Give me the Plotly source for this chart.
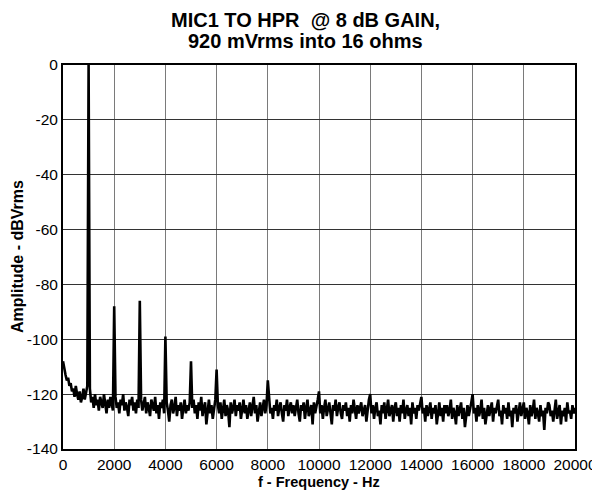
import plotly.graph_objects as go

# Frequency bins (Hz), 50 Hz spacing
freq_hz = list(range(0, 20001, 50))

# Amplitude (dBVrms), one row per 1000 Hz
amp_rows = [
    [-108, -111, -113, -115, -114, -117, -116, -119, -118, -121, -117, -120, -122, -119, -123, -121, -118, -122, -120, -117],
    [0, -118, -123, -121, -125, -120, -124, -122, -126, -121, -123, -125, -120, -124, -127, -122, -125, -121, -124, -126],
    [-88, -121, -125, -123, -127, -122, -124, -120, -126, -123, -125, -128, -122, -124, -121, -126, -123, -127, -122, -125],
    [-86, -122, -126, -124, -121, -127, -123, -125, -128, -122, -124, -126, -121, -127, -124, -129, -123, -125, -122, -127],
    [-99, -123, -126, -130, -124, -122, -127, -125, -121, -128, -124, -126, -123, -129, -125, -122, -127, -124, -126, -123],
    [-108, -125, -122, -127, -124, -129, -123, -126, -121, -128, -125, -123, -131, -126, -122, -127, -124, -129, -125, -122],
    [-111, -124, -127, -123, -129, -125, -122, -128, -124, -126, -132, -123, -127, -125, -122, -128, -124, -126, -123, -129],
    [-125, -122, -127, -124, -129, -126, -123, -128, -125, -121, -127, -124, -130, -126, -123, -128, -125, -122, -127, -124],
    [-115, -123, -127, -125, -129, -124, -126, -122, -128, -125, -123, -127, -130, -124, -126, -122, -128, -125, -123, -127],
    [-124, -128, -125, -122, -127, -130, -124, -126, -123, -129, -125, -122, -128, -126, -124, -131, -123, -127, -125, -122],
    [-119, -127, -124, -129, -125, -122, -128, -126, -123, -127, -131, -124, -126, -122, -128, -125, -123, -127, -129, -124],
    [-126, -123, -128, -125, -130, -124, -127, -122, -126, -129, -124, -127, -125, -123, -128, -126, -124, -130, -125, -122],
    [-120, -127, -124, -129, -125, -123, -128, -126, -131, -124, -127, -123, -129, -125, -122, -128, -126, -124, -130, -125],
    [-123, -128, -125, -130, -124, -127, -122, -129, -126, -124, -128, -125, -131, -123, -127, -125, -129, -124, -126, -123],
    [-121, -127, -125, -130, -124, -128, -126, -123, -129, -125, -127, -124, -131, -126, -123, -128, -125, -130, -124, -127],
    [-124, -128, -126, -122, -129, -125, -127, -131, -124, -128, -126, -123, -129, -125, -132, -127, -124, -128, -126, -123],
    [-120, -127, -125, -130, -124, -128, -126, -122, -129, -125, -131, -127, -124, -128, -126, -123, -130, -125, -127, -124],
    [-122, -128, -126, -131, -124, -127, -125, -129, -123, -128, -126, -132, -125, -127, -124, -130, -126, -123, -128, -125],
    [-123, -129, -125, -127, -131, -124, -128, -126, -122, -129, -125, -127, -130, -124, -128, -126, -133, -125, -127, -123],
    [-124, -128, -126, -130, -125, -122, -129, -127, -124, -131, -126, -128, -125, -130, -123, -127, -126, -129, -124, -127],
    [-125],
]
amp_dbvrms = [v for row in amp_rows for v in row]

x_ticks = [0, 2000, 4000, 6000, 8000, 10000, 12000, 14000, 16000, 18000, 20000]
y_ticks = [0, -20, -40, -60, -80, -100, -120, -140]

title_lines = ["MIC1 TO HPR  @ 8 dB GAIN,", "920 mVrms into 16 ohms"]
x_title = "f - Frequency - Hz"
y_title = "Amplitude - dBVrms"

FONT = "Liberation Sans, Arial, sans-serif"

fig = go.Figure()
fig.add_trace(go.Scatter(
    x=freq_hz, y=amp_dbvrms, mode="lines",
    line=dict(color="black", width=2.6),
    showlegend=False,
))

# Figure sits 8 px inside the page (browser body margin)
fig.update_layout(
    width=592, height=485,
    margin=dict(l=55, r=25, t=57, b=44, autoexpand=False),
    paper_bgcolor="white", plot_bgcolor="white",
    font=dict(family=FONT, size=15, color="black"),
    xaxis=dict(
        range=[0, 20000], tickvals=x_ticks, ticktext=[str(v) for v in x_ticks],
        showgrid=True, gridcolor="#7a7a7a", gridwidth=1,
        showline=True, linecolor="black", linewidth=2, mirror=True,
        ticks="", zeroline=False, automargin=False,
        tickfont=dict(family=FONT, size=15.5),
    ),
    yaxis=dict(
        range=[-140, 0], tickvals=y_ticks, ticktext=[str(v) for v in y_ticks],
        showgrid=True, gridcolor="#333333", gridwidth=1,
        showline=True, linecolor="black", linewidth=2, mirror=True,
        ticks="", zeroline=False, automargin=False,
        tickfont=dict(family=FONT, size=15.5),
    ),
    annotations=[
        dict(text="<b>%s</b>" % title_lines[0], xref="paper", yref="paper",
             x=0.4746, y=1.1172, xanchor="center", yanchor="middle", showarrow=False,
             font=dict(family=FONT, size=20, color="black")),
        dict(text="<b>%s</b>" % title_lines[1], xref="paper", yref="paper",
             x=0.4746, y=1.0625, xanchor="center", yanchor="middle", showarrow=False,
             font=dict(family=FONT, size=20, color="black")),
        dict(text="<b>%s</b>" % x_title, xref="paper", yref="paper",
             x=0.5, y=-0.0859, xanchor="center", yanchor="middle", showarrow=False,
             font=dict(family=FONT, size=14.5, color="black")),
        dict(text="<b>%s</b>" % y_title, xref="paper", yref="paper", textangle=-90,
             x=-0.0898, y=0.5, xanchor="center", yanchor="middle", showarrow=False,
             font=dict(family=FONT, size=16, color="black")),
    ],
)

fig.write_html("out.html")
